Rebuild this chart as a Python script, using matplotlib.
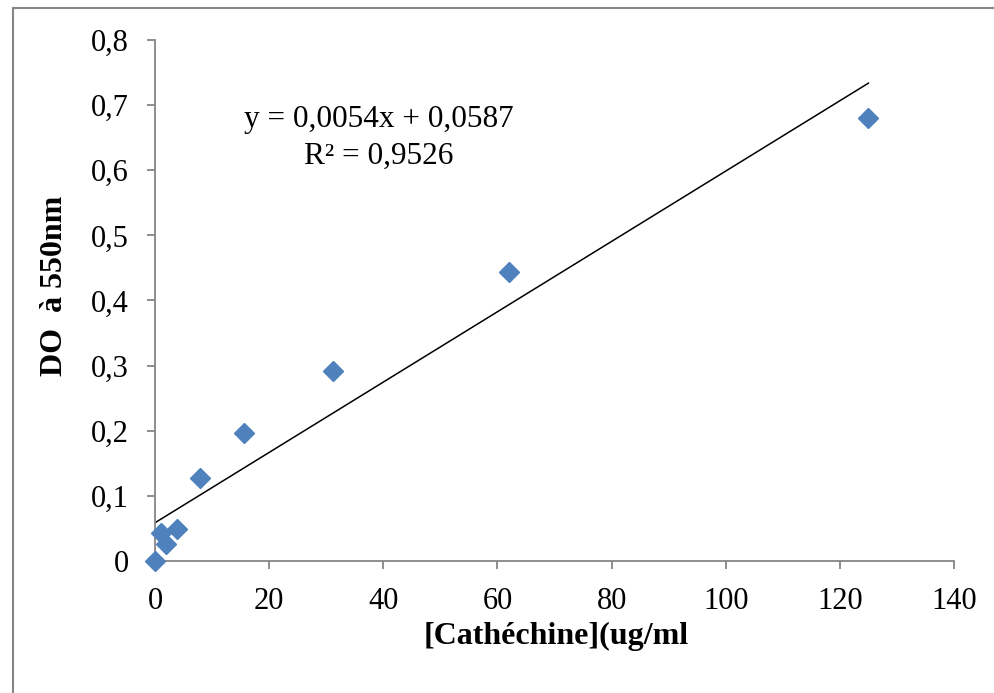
#!/usr/bin/env python3
"""
Courbe d'étalonnage de la catéchine : DO à 550nm en fonction de la concentration
"""

import matplotlib
matplotlib.use('Agg')
import matplotlib.pyplot as plt

plt.rcParams['font.family'] = ['Liberation Serif', 'DejaVu Serif']

# concentrations (ug/ml) et absorbances lues
conc = [0, 0.98, 1.95, 3.9, 7.8, 15.6, 31.25, 62.0, 125.0]
do_550 = [0.0, 0.043, 0.026, 0.049, 0.127, 0.197, 0.292, 0.443, 0.680]

# droite de tendance affichée
slope = 0.0054
intercept = 0.0587
r2 = 0.9526

x_ticks = [0, 20, 40, 60, 80, 100, 120, 140]
y_ticks = [0, 0.1, 0.2, 0.3, 0.4, 0.5, 0.6, 0.7, 0.8]
y_tick_labels = ['0', '0,1', '0,2', '0,3', '0,4', '0,5', '0,6', '0,7', '0,8']


def main():
    fig = plt.figure(figsize=(9.95, 6.93), dpi=100)
    ax = fig.add_axes([0.1558, 0.1905, 0.803, 0.7518])

    # cadre du graphique (haut et gauche seulement visibles)
    fig.add_artist(plt.Line2D([0.013, 1.0], [0.9885, 0.9885], color='#868686', lw=1.5,
                              transform=fig.transFigure))
    fig.add_artist(plt.Line2D([0.0135, 0.0135], [0.0, 0.9885], color='#868686', lw=1.5,
                              transform=fig.transFigure))

    # droite de régression
    x_line = [min(conc), max(conc)]
    y_line = [slope * v + intercept for v in x_line]
    ax.plot(x_line, y_line, color='black', lw=1.1, zorder=2)

    ax.plot(conc, do_550, linestyle='none', marker='D', ms=10,
            color='#4F81BD', markeredgecolor='#4F81BD', zorder=3, clip_on=False)

    eq = f"y = {slope:.4f}x + {intercept:.4f}".replace('.', ',')
    r2_txt = f"R² = {r2:.4f}".replace('.', ',')
    ax.text(0.28, 0.848, eq, transform=ax.transAxes, ha='center', va='center', fontsize=22.5)
    ax.text(0.28, 0.777, r2_txt, transform=ax.transAxes, ha='center', va='center', fontsize=22.5)

    ax.set_xlim(0, 140)
    ax.set_ylim(0, 0.8)
    ax.set_xticks(x_ticks)
    ax.set_xticklabels([str(v) for v in x_ticks])
    ax.set_yticks(y_ticks)
    ax.set_yticklabels(y_tick_labels)

    for side in ['top', 'right']:
        ax.spines[side].set_visible(False)
    for side in ['left', 'bottom']:
        ax.spines[side].set_color('#868686')
        ax.spines[side].set_linewidth(1.3)

    ax.tick_params(axis='both', direction='out', length=6, width=1.3, color='#868686',
                   labelsize=22, pad=13)

    ax.set_xlabel('[Cathéchine](ug/ml', fontsize=23, fontweight='bold')
    ax.set_ylabel('DO  à 550nm', fontsize=23, fontweight='bold')
    ax.xaxis.set_label_coords(0.502, -0.117)
    ax.yaxis.set_label_coords(-0.108, 0.528)

    plt.savefig('out.png', dpi=100)


if __name__ == "__main__":
    main()
